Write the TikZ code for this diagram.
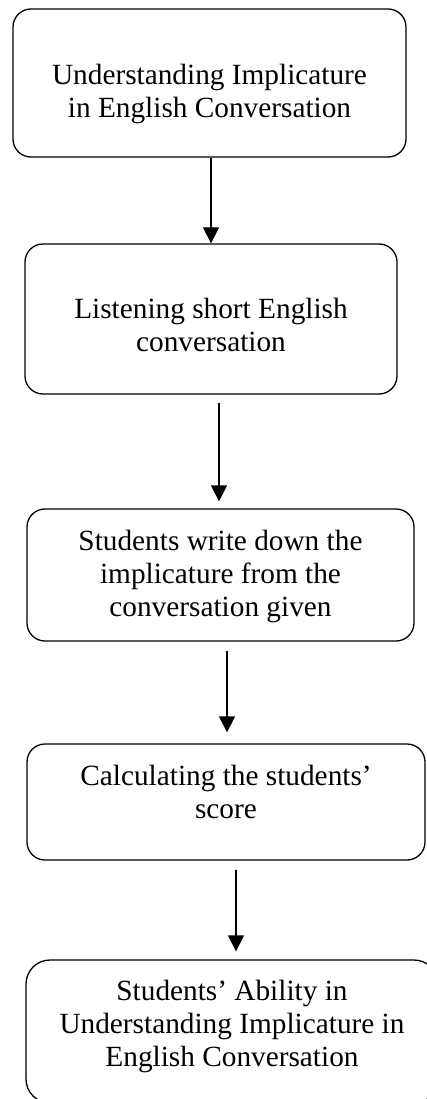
\documentclass[tikz,border=0pt]{standalone}
\usepackage{fontspec}
\setmainfont{Liberation Serif}
\usetikzlibrary{arrows.meta,positioning}
\tikzset{
  % rounded step box
  box/.style={
    draw,
    line width=1.3pt,
    rounded corners=18pt
  },
  % text inside a box
  txt/.style={
    align=center,
    inner sep=0pt,
    font=\fontsize{29.3}{33}\selectfont
  },
  % arrow style
  arr/.style={-{Triangle[length=16pt,width=16pt]}, line width=1.3pt},
}

\begin{document}
\begin{tikzpicture}[x=1pt,y=1pt]
        \useasboundingbox (0,0) rectangle (426,-1099);

        % boxes
        \node[box, minimum width=393pt, minimum height=148pt] (understand) at (209.5,-83) {};
        \node[box, minimum width=372pt, minimum height=150pt] (listen) at (211,-319) {};
        \node[box, minimum width=387pt, minimum height=132pt] (write) at (220.5,-575) {};
        \node[box, minimum width=398pt, minimum height=116pt] (score) at (226,-802) {};
        \node[box, minimum width=412pt, minimum height=143pt, rounded corners=24pt] (ability) at (232,-1031.5) {};

        % texts
        \node[txt, below=56pt of understand.north] (understandtxt) {Understanding Implicature\\in English Conversation};
        \node[txt, below=55pt of listen.north] (listentxt) {Listening short English\\conversation};
        \node[txt, below=22pt of write.north] (writetxt) {Students write down the\\implicature from the\\conversation given};
        \node[txt, below=22pt of score.north] (scoretxt) {Calculating the students’\\score};
        \node[txt, below=21pt of ability.north] (abilitytxt) {Students’ Ability in\\Understanding Implicature in\\English Conversation};

        % arrows
        \draw[arr] (understand.south -| listen.north) -- (listen.north);
        \draw[arr, shorten <=8pt, shorten >=7pt] ([xshift=8pt]listen.south) -- ([xshift=-1.5pt]write.north);
        \draw[arr, shorten <=9pt, shorten >=11pt] ([xshift=6.5pt]write.south) -- ([xshift=1pt]score.north);
        \draw[arr, shorten <=9pt, shorten >=8pt] ([xshift=10pt]score.south) -- ([xshift=4pt]ability.north);
    \end{tikzpicture}
\end{document}
